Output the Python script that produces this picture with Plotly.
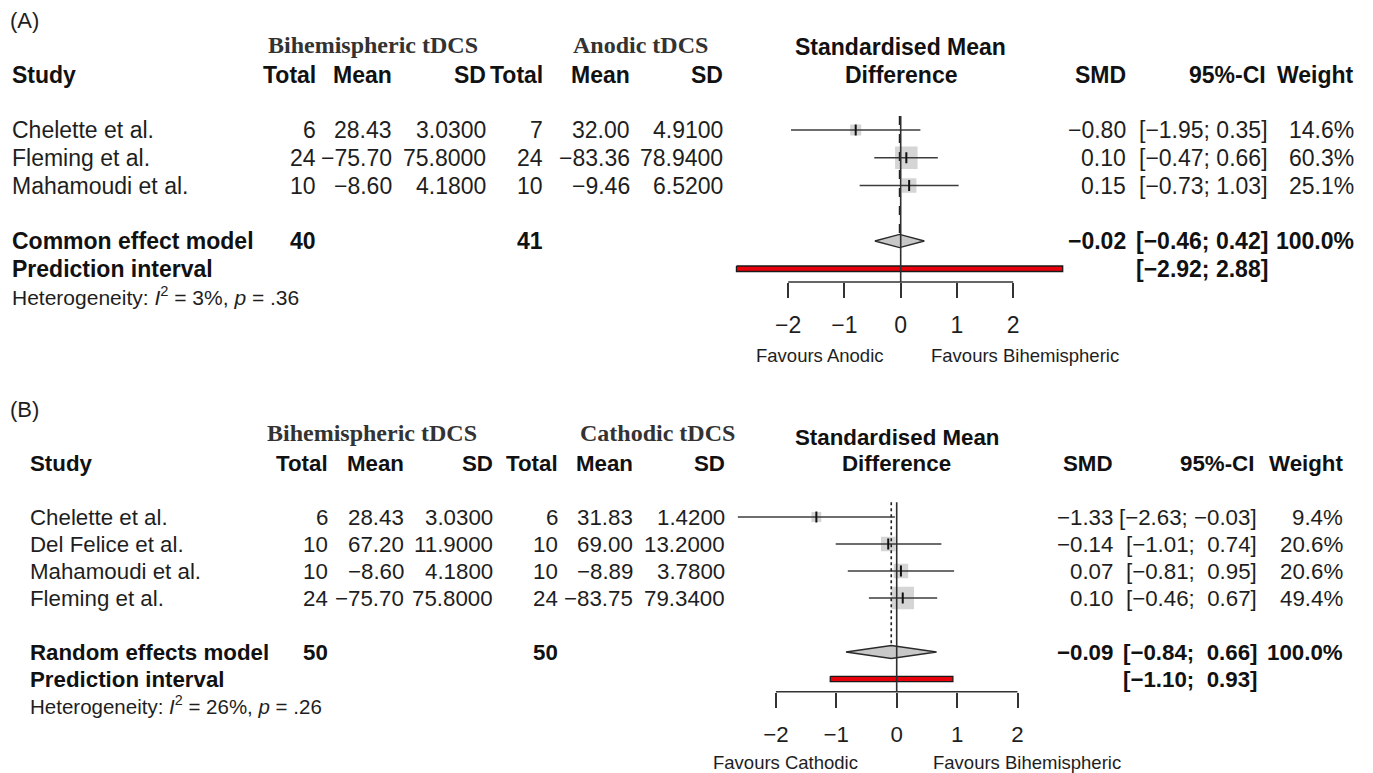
import plotly.graph_objects as go

W, H = 1373, 773
SANS = "Arial, 'Liberation Sans', Helvetica, sans-serif"
SERIF = "'Times New Roman', 'Liberation Serif', serif"
MINUS = "\u2212"
NBSP = "\u00a0"

# ---------------- data: panel A (Bihemispheric vs Anodic) ----------------
A_studies = ["Chelette et al.", "Fleming et al.", "Mahamoudi et al."]
A_n1 = [6, 24, 10]
A_mean1 = [28.43, -75.70, -8.60]
A_sd1 = [3.03, 75.80, 4.18]
A_n2 = [7, 24, 10]
A_mean2 = [32.00, -83.36, -9.46]
A_sd2 = [4.91, 78.94, 6.52]
A_smd = [-0.80, 0.10, 0.15]
A_lo = [-1.95, -0.47, -0.73]
A_hi = [0.35, 0.66, 1.03]
A_weight = [14.6, 60.3, 25.1]
A_pooled = [-0.02, -0.46, 0.42]
A_pred = [-2.92, 2.88]
A_totals = [40, 41]
A_i2, A_p = "3%", ".36"
A_groups = ["Bihemispheric tDCS", "Anodic tDCS"]
A_model = "Common effect model"
A_favours = ["Favours Anodic", "Favours Bihemispheric"]

# ---------------- data: panel B (Bihemispheric vs Cathodic) ----------------
B_studies = ["Chelette et al.", "Del Felice et al.", "Mahamoudi et al.", "Fleming et al."]
B_n1 = [6, 10, 10, 24]
B_mean1 = [28.43, 67.20, -8.60, -75.70]
B_sd1 = [3.03, 11.90, 4.18, 75.80]
B_n2 = [6, 10, 10, 24]
B_mean2 = [31.83, 69.00, -8.89, -83.75]
B_sd2 = [1.42, 13.20, 3.78, 79.34]
B_smd = [-1.33, -0.14, 0.07, 0.10]
B_lo = [-2.63, -1.01, -0.81, -0.46]
B_hi = [-0.03, 0.74, 0.95, 0.67]
B_weight = [9.4, 20.6, 20.6, 49.4]
B_pooled = [-0.09, -0.84, 0.66]
B_pred = [-1.10, 0.93]
B_totals = [50, 50]
B_i2, B_p = "26%", ".26"
B_groups = ["Bihemispheric tDCS", "Cathodic tDCS"]
B_model = "Random effects model"
B_favours = ["Favours Cathodic", "Favours Bihemispheric"]

TICKS = [-2, -1, 0, 1, 2]
HEADERS = ["Total", "Mean", "SD", "Total", "Mean", "SD", "SMD", "95%-CI", "Weight"]


def fmt(v, d):
    return f"{v:.{d}f}".replace("-", MINUS)


def fy(py):
    return 1 - py / H


fig = go.Figure()
annotations = []
shapes = []


def txt(text, x, y, yref="paper", anchor="right", size=23, bold=False,
        color="#1e1e1e", family=SANS):
    if bold:
        text = f"<b>{text}</b>"
    annotations.append(dict(
        text=text, x=x / W, xref="paper", y=(fy(y) if yref == "paper" else y),
        yref=yref, xanchor=anchor, yanchor="middle", showarrow=False,
        font=dict(size=size, family=family, color=color)))


def panel(P, ax, lay):
    xa = "x" if ax == 1 else f"x{ax}"
    ya = "y" if ax == 1 else f"y{ax}"
    n = len(P["studies"])
    fs = lay["fs"]
    zero, unit = lay["zero"], lay["unit"]
    r0, r1 = lay["xrange"]
    row0, step, axis_px, top_row = lay["row0"], lay["step"], lay["axis"], lay["top"]
    bottom_row = 1 + (axis_px - row0) / step
    pooled_row = n + 2
    pred_row = n + 3
    est, lo, hi = P["pooled"]
    pl, ph = P["pred"]

    # R-style column padding for the CI text
    all_hi = list(P["hi"]) + [hi, ph]
    all_lo = list(P["lo"]) + [lo, pl]
    pad_hi = any(v < 0 for v in all_hi)
    pad_lo = any(v < 0 for v in all_lo)

    def ci(a, b):
        sa, sb = fmt(a, 2), fmt(b, 2)
        if pad_lo and a >= 0:
            sa = NBSP + sa
        if pad_hi and b >= 0:
            sb = NBSP + sb
        return f"[{sa}; {sb}]"

    xdom = [(zero + r0 * unit) / W, (zero + r1 * unit) / W]
    ydom = [fy(axis_px), fy(row0 + (top_row - 1) * step)]
    fig.layout[("xaxis" if ax == 1 else f"xaxis{ax}")] = dict(
        domain=xdom, range=[r0, r1], anchor=ya, showgrid=False, zeroline=False,
        showline=False, tickmode="array", tickvals=TICKS, ticks="outside",
        ticklen=15, tickwidth=1.5, tickcolor="#333333",
        tickfont=dict(size=fs, family=SANS, color="#1e1e1e"),
        ticklabelstandoff=lay["standoff"], fixedrange=True)
    fig.layout[("yaxis" if ax == 1 else f"yaxis{ax}")] = dict(
        domain=ydom, range=[bottom_row, top_row], anchor=xa, visible=False,
        showgrid=False, zeroline=False, fixedrange=True)

    rows = list(range(1, n + 1))
    maxw = max(P["weight"])
    sizes = [22.5 * (w / maxw) ** 0.5 for w in P["weight"]]

    # squares
    fig.add_trace(go.Scatter(x=P["smd"], y=rows, mode="markers", xaxis=xa, yaxis=ya,
                             marker=dict(symbol="square", size=sizes, color="#c3c3c3",
                                         line=dict(width=0)),
                             hoverinfo="skip", showlegend=False))
    # diamond
    dh = 0.24
    fig.add_trace(go.Scatter(x=[lo, est, hi, est, lo],
                             y=[pooled_row, pooled_row - dh, pooled_row, pooled_row + dh, pooled_row],
                             mode="lines", fill="toself", fillcolor="#c8c8c8",
                             line=dict(color="#2a2a2a", width=1.3), xaxis=xa, yaxis=ya,
                             hoverinfo="skip", showlegend=False))
    # prediction interval bar
    bh = 0.1
    fig.add_trace(go.Scatter(x=[pl, ph, ph, pl, pl],
                             y=[pred_row - bh, pred_row - bh, pred_row + bh, pred_row + bh, pred_row - bh],
                             mode="lines", fill="toself", fillcolor="#e8000b",
                             line=dict(color="#1a1a1a", width=1.3), xaxis=xa, yaxis=ya,
                             hoverinfo="skip", showlegend=False))
    # CI lines
    cx, cy = [], []
    for r, a, b in zip(rows, P["lo"], P["hi"]):
        cx += [a, b, None]
        cy += [r, r, None]
    fig.add_trace(go.Scatter(x=cx, y=cy, mode="lines", xaxis=xa, yaxis=ya,
                             line=dict(color="#3c3c3c", width=1.5),
                             hoverinfo="skip", showlegend=False))
    # pooled estimate reference line
    fig.add_trace(go.Scatter(x=[est, est], y=[top_row + 0.1, pooled_row - dh], mode="lines",
                             xaxis=xa, yaxis=ya,
                             line=dict(color="#222222", width=1.6, dash=lay["dash"]),
                             hoverinfo="skip", showlegend=False))
    # line of no effect
    fig.add_trace(go.Scatter(x=[0, 0], y=[top_row + 0.1, bottom_row], mode="lines",
                             xaxis=xa, yaxis=ya, line=dict(color="#2e2e2e", width=1.6),
                             hoverinfo="skip", showlegend=False))
    # point estimate ticks
    fig.add_trace(go.Scatter(x=P["smd"], y=rows, mode="markers", xaxis=xa, yaxis=ya,
                             marker=dict(symbol="line-ns", size=8,
                                         line=dict(color="#111111", width=2)),
                             hoverinfo="skip", showlegend=False))
    # axis line from -2 to 2
    shapes.append(dict(type="line", xref=xa, yref="paper", x0=TICKS[0], x1=TICKS[-1],
                       y0=ydom[0], y1=ydom[0], line=dict(color="#333333", width=1.5)))

    # ---------------- text ----------------
    c = lay["cols"]
    nx = lay["name_x"]
    txt(P["label"], lay["label_x"], lay["label_y"], anchor="left", size=22)
    txt(P["groups"][0], lay["g1"], lay["gy"], anchor="center", size=24, bold=True,
        color="#333333", family=SERIF)
    txt(P["groups"][1], lay["g2"], lay["gy"], anchor="center", size=24, bold=True,
        color="#333333", family=SERIF)
    txt("Standardised Mean", zero, lay["hy1"], anchor="center", size=fs, bold=True,
        color="#111111")
    txt("Difference", zero, lay["hy2"], anchor="center", size=fs, bold=True, color="#111111")
    txt("Study", nx, lay["hy2"], anchor="left", size=fs, bold=True, color="#111111")
    hdr_x = list(c)
    hdr_x[7] = lay["ci_hdr"]
    for h, xr in zip(HEADERS, hdr_x):
        txt(h, xr, lay["hy2"], size=fs, bold=True, color="#111111")

    for i, r in enumerate(rows):
        vals = [str(P["n1"][i]), fmt(P["mean1"][i], 2), fmt(P["sd1"][i], 4),
                str(P["n2"][i]), fmt(P["mean2"][i], 2), fmt(P["sd2"][i], 4),
                fmt(P["smd"][i], 2), ci(P["lo"][i], P["hi"][i]), f"{P['weight'][i]:.1f}%"]
        txt(P["studies"][i], nx, r, yref=ya, anchor="left", size=fs)
        for v, xr in zip(vals, c):
            txt(v, xr, r, yref=ya, size=fs)

    b = dict(yref=ya, size=fs, bold=True, color="#111111")
    txt(P["model"], nx, pooled_row, anchor="left", **b)
    txt(str(P["totals"][0]), c[0], pooled_row, **b)
    txt(str(P["totals"][1]), c[3], pooled_row, **b)
    txt(fmt(est, 2), c[6], pooled_row, **b)
    txt(ci(lo, hi), c[7], pooled_row, **b)
    txt("100.0%", c[8], pooled_row, **b)
    txt("Prediction interval", nx, pred_row, anchor="left", **b)
    txt(ci(pl, ph), c[7], pred_row, **b)
    txt(f"Heterogeneity: <i>I</i><sup>2</sup> = {P['i2']}, <i>p</i> = {P['p']}",
        nx, lay["het_y"], anchor="left", size=lay["hs"])
    txt(P["favours"][0], lay["f1"], lay["fy"], anchor="center", size=18.5)
    txt(P["favours"][1], lay["f2"], lay["fy"], anchor="center", size=18.5)


PA = dict(studies=A_studies, n1=A_n1, mean1=A_mean1, sd1=A_sd1, n2=A_n2, mean2=A_mean2,
          sd2=A_sd2, smd=A_smd, lo=A_lo, hi=A_hi, weight=A_weight, pooled=A_pooled,
          pred=A_pred, totals=A_totals, i2=A_i2, p=A_p, groups=A_groups, model=A_model,
          favours=A_favours, label="(A)")
PB = dict(studies=B_studies, n1=B_n1, mean1=B_mean1, sd1=B_sd1, n2=B_n2, mean2=B_mean2,
          sd2=B_sd2, smd=B_smd, lo=B_lo, hi=B_hi, weight=B_weight, pooled=B_pooled,
          pred=B_pred, totals=B_totals, i2=B_i2, p=B_p, groups=B_groups, model=B_model,
          favours=B_favours, label="(B)")

LA = dict(zero=900.7, unit=56.25, xrange=(-3.05, 3.05), row0=130, step=27.75, axis=282,
          top=0.4, standoff=7, dash="dash", fs=23, hs=21,
          cols=[318, 394, 488, 545, 632, 725, 1128, 1270, 1356], ci_hdr=1268, name_x=10,
          label_x=8, label_y=20, g1=373, g2=640, gy=45, hy1=47, hy2=75,
          het_y=296, f1=819.5, f2=1025, fy=355)
LB = dict(zero=896.7, unit=60.4, xrange=(-3.0, 3.0), row0=517, step=27, axis=691.7,
          top=0.35, standoff=8, dash="dot", fs=22.3, hs=20.5,
          cols=[330, 406, 495, 560, 635, 727, 1115, 1259, 1345], ci_hdr=1256, name_x=28,
          label_x=8, label_y=410, g1=372, g2=657, gy=433, hy1=437, hy2=463,
          het_y=705, f1=785, f2=1027, fy=762)

panel(PA, 1, LA)
panel(PB, 2, LB)

fig.update_layout(width=W, height=H, margin=dict(l=0, r=0, t=0, b=0),
                  paper_bgcolor="white", plot_bgcolor="rgba(0,0,0,0)",
                  showlegend=False, annotations=annotations, shapes=shapes,
                  font=dict(family=SANS))
fig.write_html("out.html", config=dict(displayModeBar=False))
